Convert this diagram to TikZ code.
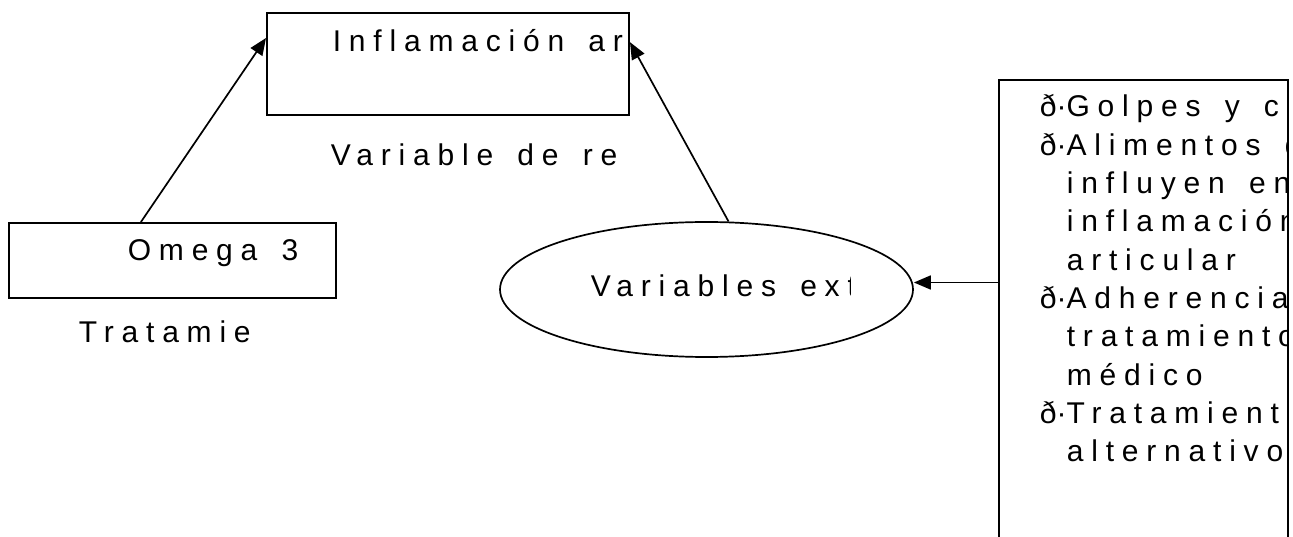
\documentclass[tikz,border=0pt]{standalone}
\usepackage{fontspec}
\setmainfont{Liberation Sans}[LetterSpace=26,WordSpace=1.5]
\usetikzlibrary{arrows.meta}
\usetikzlibrary{shapes.geometric}
\usetikzlibrary{positioning}
\usetikzlibrary{calc}

\tikzset{
  caja/.style={draw, line width=2pt, inner sep=0pt},
  texto/.style={inner sep=0pt, anchor=base west, font=\fontsize{30}{38}\selectfont},
}
\newcommand{\vin}{{\addfontfeature{LetterSpace=0}ð·}}

\begin{document}
\begin{tikzpicture}[x=1pt, y=-1pt, >={Triangle[length=17pt,width=14pt]}, line width=1.7pt]
\useasboundingbox (0,0) rectangle (1293,537);
% cajas
\node[caja, minimum width=362pt, minimum height=102pt, anchor=north west] (infl) at (266,12) {};
\node[caja, minimum width=327pt, minimum height=75pt, anchor=north west] (omega) at (8,222) {};
\node[caja, ellipse, line width=1.7pt, minimum width=413pt, minimum height=135pt] (ext) at (706.5,289.5) {};
\node[caja, minimum width=289pt, minimum height=500pt, anchor=north west] (lst) at (998,79) {};
% textos
\node[texto] (tinfl) at (332,52) {Inflamación ar};
\node[texto] (tres) at (330,166) {Variable de re};
\node[texto] (tomega) at (127,261) {Omega 3};
\node[texto] (ttrat) at (78,342) {Tratamie};
\begin{scope}
  \clip (560,230) rectangle (850,330);
  \node[texto] (tvar) at (590,297) {Variables ext};
\end{scope}
\begin{scope}
  \clip (lst.north west) rectangle (1286,537);
  \foreach \dx/\t [count=\i from 0] in {0/{\vin Golpes y c}, 0/{\vin Alimentos q},
      27/{influyen en}, 27/{inflamación}, 27/{articular}, 0/{\vin Adherencia},
      27/{tratamiento}, 27/{médico}, 0/{\vin Tratamient}, 27/{alternativo}}
    \node[texto] (l\i) at (1039+\dx, 117+38.3*\i) {\t};
\end{scope}
% flechas
\draw[->] ($(omega.north west)!0.404!(omega.north east)$) -- ($(infl.north west)!0.25!(infl.south west)$);
\draw[->] (ext.72) -- ($(infl.north east)!0.29!(infl.south east)$);
\draw[->] ([yshift=7pt]lst.west |- ext.east) -- ([yshift=7pt]ext.east);
\end{tikzpicture}
\end{document}
